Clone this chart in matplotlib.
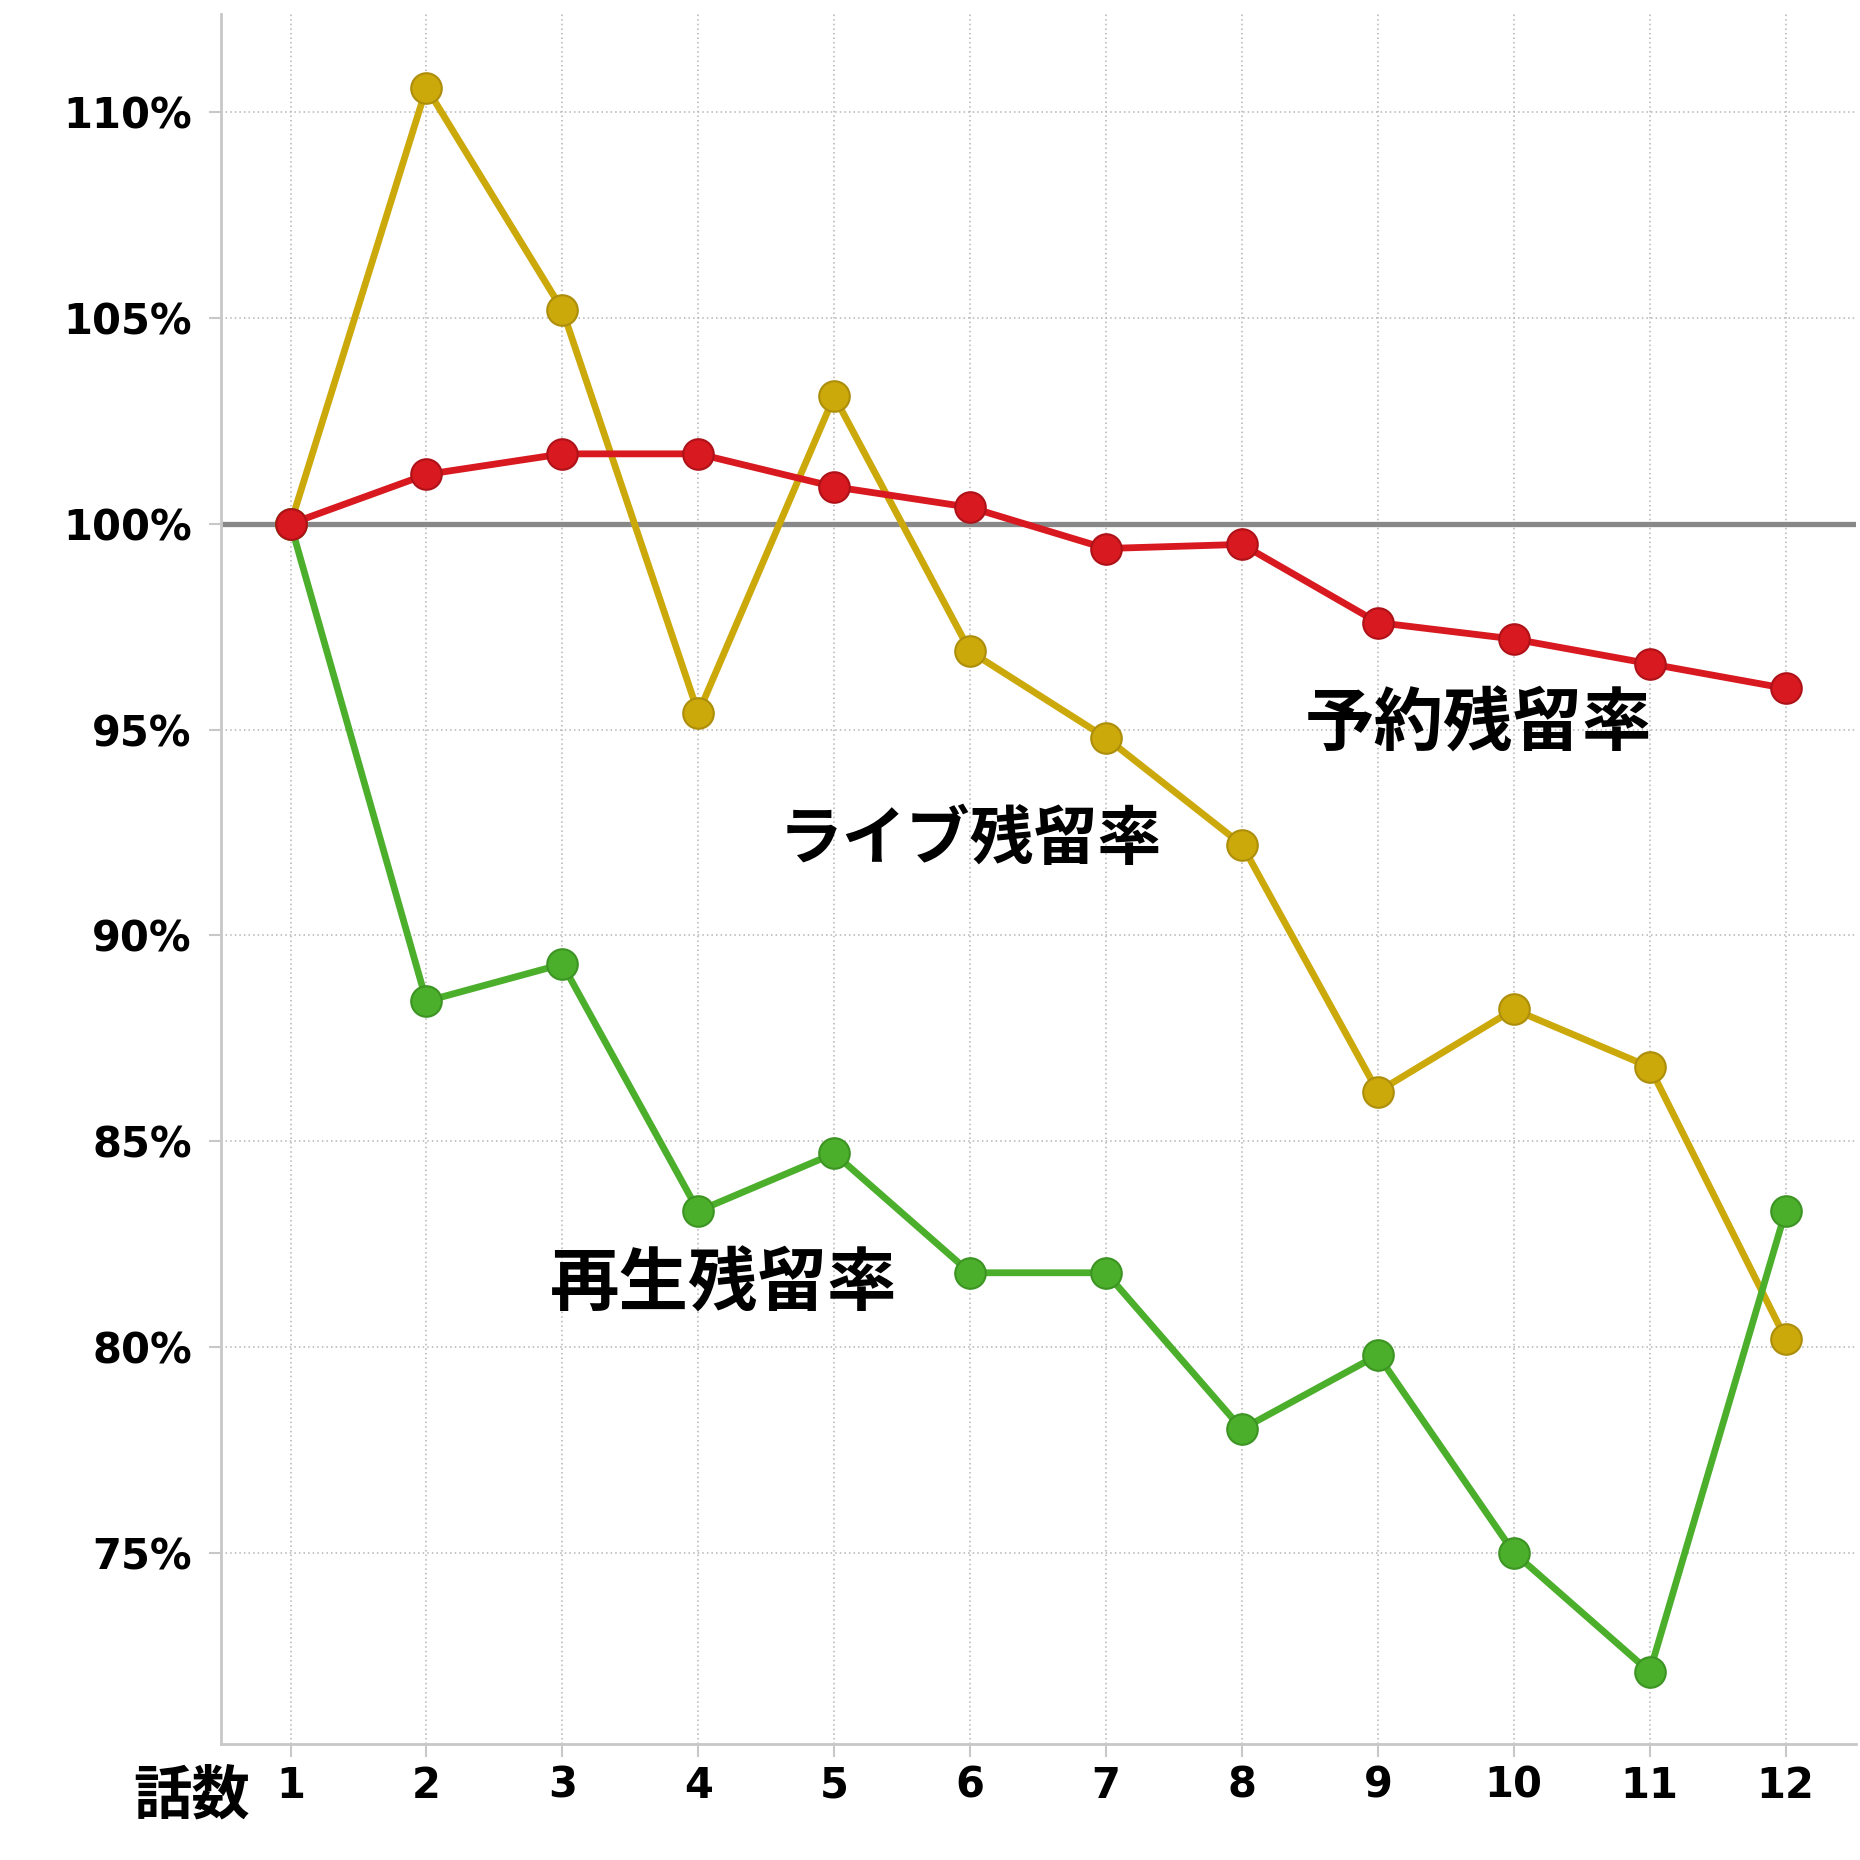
import matplotlib
matplotlib.use('Agg')
import matplotlib.pyplot as plt

plt.rcParams['font.family'] = ['Noto Sans CJK JP', 'DejaVu Sans']

# 話数
episodes = [1, 2, 3, 4, 5, 6, 7, 8, 9, 10, 11, 12]
# 予約残留率
yoyaku = [100.0, 101.2, 101.7, 101.7, 100.9, 100.4, 99.4, 99.5, 97.6, 97.2, 96.6, 96.0]
# ライブ残留率
live = [100.0, 110.6, 105.2, 95.4, 103.1, 96.9, 94.8, 92.2, 86.2, 88.2, 86.8, 80.2]
# 再生残留率
saisei = [100.0, 88.4, 89.3, 83.3, 84.7, 81.8, 81.8, 78.0, 79.8, 75.0, 72.1, 83.3]

y_ticks = [75, 80, 85, 90, 95, 100, 105, 110]
y_tick_labels = ['75%', '80%', '85%', '90%', '95%', '100%', '105%', '110%']

fig = plt.figure(figsize=(18.6, 18.6), dpi=100)
ax = fig.add_axes([0.1188, 0.0624, 0.8792, 0.9301])

ax.set_xlim(0.488, 12.52)
ax.set_ylim(70.35, 112.39)

# グリッド
ax.grid(True, color='#b4b4b4', linestyle=(0, (1, 2)), linewidth=1.1)
ax.set_axisbelow(True)

# 100%の基準線
ax.axhline(100, color='#888888', linewidth=3.8, zorder=2)

# 各系列
ax.plot(episodes, live, color='#CCA90B', linewidth=4.9, marker='o', markersize=22,
        markerfacecolor='#CCA90B', markeredgecolor='#ad8e0a', markeredgewidth=1.5, zorder=3)
ax.plot(episodes, saisei, color='#4CAF2C', linewidth=4.9, marker='o', markersize=22,
        markerfacecolor='#4CAF2C', markeredgecolor='#3c9423', markeredgewidth=1.5, zorder=4)
ax.plot(episodes, yoyaku, color='#D81920', linewidth=4.9, marker='o', markersize=22,
        markerfacecolor='#D81920', markeredgecolor='#ae1218', markeredgewidth=1.5, zorder=5)

# 系列ラベル
ax.text(9.74, 95.1, '予約残留率', fontsize=50, fontweight='bold', ha='center', va='center')
ax.text(6.0, 92.3, 'ライブ残留率', fontsize=46, fontweight='bold', ha='center', va='center')
ax.text(4.19, 81.5, '再生残留率', fontsize=50, fontweight='bold', ha='center', va='center')

ax.set_xticks(episodes)
ax.set_xticklabels([str(e) for e in episodes])
ax.set_yticks(y_ticks)
ax.set_yticklabels(y_tick_labels)

for lab in ax.get_xticklabels() + ax.get_yticklabels():
    lab.set_family('DejaVu Sans')
    lab.set_fontweight('bold')
    lab.set_fontsize(30)

ax.tick_params(axis='y', length=9, width=1.5, color='#c8c8c8', pad=12)
ax.tick_params(axis='x', length=9, width=1.5, color='#c8c8c8', pad=6)

for side in ['top', 'right']:
    ax.spines[side].set_visible(False)
for side in ['left', 'bottom']:
    ax.spines[side].set_color('#c8c8c8')
    ax.spines[side].set_linewidth(2)

fig.text(0.103, 0.034, '話数', fontsize=42, fontweight='bold', ha='center', va='center')

fig.savefig('out.png', dpi=100, facecolor='white')
